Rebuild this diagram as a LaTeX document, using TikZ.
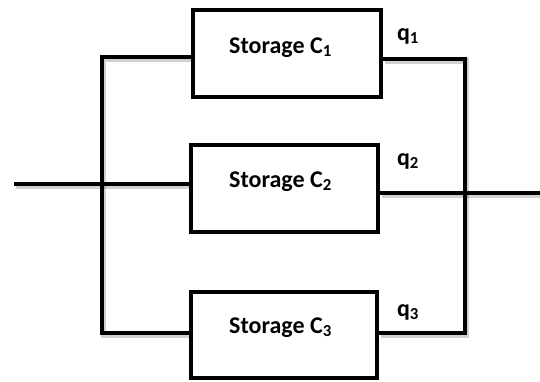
\documentclass[tikz,border=0pt]{standalone}
\usepackage{fontspec}
\setmainfont{Carlito}
\begin{document}
\begin{tikzpicture}[x=1pt,y=-1pt,
  storebox/.style={draw, line width=4.8pt, inner sep=0pt},
  wire/.style={line width=4.8pt, line join=miter,
    preaction={draw, black, opacity=0.18, line width=5.8pt,
      transform canvas={shift={(1.5pt,-2pt)}}}},
  txt/.style={font=\bfseries\fontsize{24}{28}\selectfont, anchor=base, inner sep=0pt}]
\useasboundingbox (0,0) rectangle (540,381);

% storage units
\node[storebox, minimum width=188pt, minimum height=87pt] (b1) at (287,53.5) {};
\node[storebox, minimum width=187pt, minimum height=87pt] (b2) at (284.5,188.5) {};
\node[storebox, minimum width=186pt, minimum height=86pt] (b3) at (284,335) {};

\node[txt] (t1) at (280.5,53) {Storage C\textsubscript{1}};
\node[txt] (t2) at (280.5,187) {Storage C\textsubscript{2}};
\node[txt] (t3) at (280.5,333) {Storage C\textsubscript{3}};

% bus end points
\coordinate (inL) at (14,184);
\coordinate (lBot) at (102,333);
\coordinate (rBot) at (465,333);
\coordinate (outR) at (540,193);

% input side
\draw[wire] ([yshift=-3.5pt]b1.west) -| (lBot) -- (b3.west |- lBot);
\draw[wire] (inL) -- (b2.west |- inL);

% output side
\draw[wire] ([yshift=-5.5pt]b1.east) -| (rBot) -- (b3.east |- rBot);
\draw[wire] (b2.east |- outR) -- (outR);

% flow labels
\node[txt] (q1) at (408,40) {q\textsubscript{1}};
\node[txt] (q2) at (408,165) {q\textsubscript{2}};
\node[txt] (q3) at (408,316) {q\textsubscript{3}};
\end{tikzpicture}
\end{document}
